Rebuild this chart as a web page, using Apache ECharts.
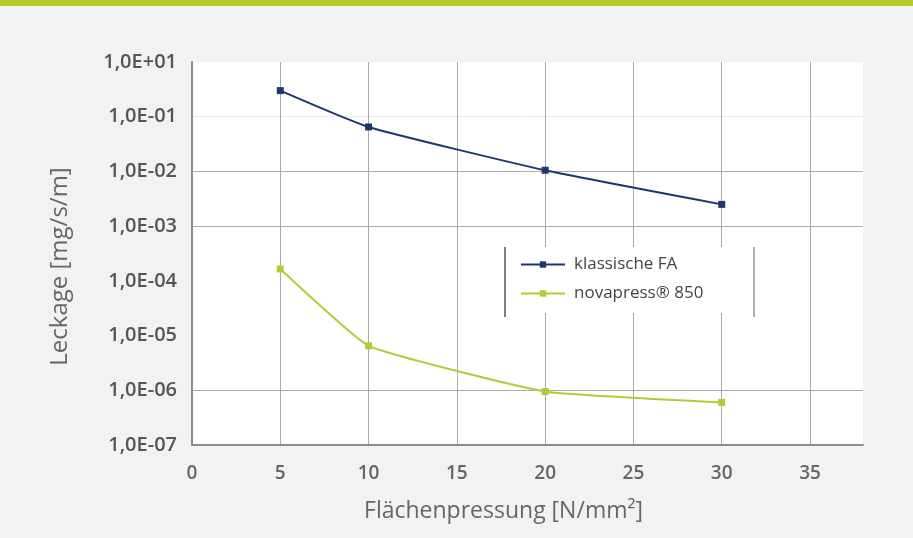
<!DOCTYPE html>
<html>
<head>
<meta charset="utf-8">
<script src="https://cdn.jsdelivr.net/npm/echarts@6/dist/echarts.min.js"></script>
<style>
  html, body { margin: 0; padding: 0; background: #f1f2f4; }
  #topbar { position: absolute; left: 0; top: 0; width: 913px; height: 6px; background: #b6c92b; }
  #chart { width: 913px; height: 538px; }
</style>
</head>
<body>
<div id="topbar"></div>
<div id="chart"></div>
<script>
// Flächenpressung [N/mm²]
const xValues = [5, 10, 20, 30];
// Leckage [mg/s/m]
const klassischeFA = [0.3, 0.065, 0.0105, 0.0025];
const novapress850 = [1.65e-4, 6.5e-6, 9.5e-7, 6.0e-7];
// tick labels as printed (top one reads +01)
const yTickLabels = ["1,0E-07", "1,0E-06", "1,0E-05", "1,0E-04", "1,0E-03", "1,0E-02", "1,0E-01", "1,0E+01"];
const seriesNames = ["klassische FA", "novapress\u00AE 850"];

const chart = echarts.init(document.getElementById("chart"));

const font = "'Open Sans', 'Noto Sans', sans-serif";

const option = {
  backgroundColor: "transparent",
  animation: false,
  grid: { left: 192, top: 62, right: 50, bottom: 93, backgroundColor: "#fff", show: true, borderWidth: 0 },
  legend: {
    left: 505,
    top: 247,
    orient: "vertical",
    backgroundColor: "#fff",
    padding: [9, 44, 11, 15],
    itemWidth: 44,
    itemHeight: 8,
    itemGap: 12,
    textStyle: { fontFamily: font, fontSize: 17, color: "#444", padding: [0, 0, 0, 4] },
    data: seriesNames
  },
  xAxis: {
    type: "value",
    min: 0,
    max: 38,
    interval: 5,
    name: "Flächenpressung [N/mm²]",
    nameLocation: "middle",
    nameGap: 55,
    nameTextStyle: { fontFamily: font, fontSize: 23, color: "#666", padding: [0, 48, 0, 0] },
    axisLine: { lineStyle: { color: "#8c8c8c", width: 2 } },
    axisTick: { show: false },
    axisLabel: {
      margin: 19,
      fontFamily: font, fontSize: 19, fontWeight: 600, color: "#666",
      formatter: v => (v % 5 === 0 ? String(v) : "")
    },
    splitLine: { show: true, showMinLine: false, showMaxLine: false, lineStyle: { color: "#aaa", width: 1 } }
  },
  yAxis: {
    type: "log",
    logBase: 10,
    min: 1e-7,
    max: 1,
    name: "Leckage [mg/s/m]",
    nameLocation: "middle",
    nameGap: 120,
    nameTextStyle: { fontFamily: font, fontSize: 24, color: "#666", padding: [0, 26, 0, 0] },
    axisLine: { show: true, lineStyle: { color: "#8c8c8c", width: 2 } },
    axisTick: { show: false },
    axisLabel: {
      margin: 15,
      fontFamily: font, fontSize: 20, fontWeight: 600, color: "#555",
      formatter: v => yTickLabels[Math.round(Math.log10(v)) + 7]
    },
    splitLine: {
      show: true, showMinLine: false, showMaxLine: false,
      // 1e-6, 1e-5, 1e-4, 1e-3, 1e-2, 1e-1
      lineStyle: { color: ["#ababab", "rgba(0,0,0,0)", "rgba(0,0,0,0)", "#ababab", "#ababab", "#e9e9e9"], width: 1 }
    }
  },
  graphic: [
    { type: "line", shape: { x1: 505, y1: 247, x2: 505, y2: 317 }, style: { stroke: "#555", lineWidth: 1.5 }, z: 100 },
    { type: "line", shape: { x1: 754, y1: 247, x2: 754, y2: 317 }, style: { stroke: "#999", lineWidth: 1.5 }, z: 100 }
  ],
  series: [
    {
      name: seriesNames[0],
      type: "line",
      smooth: 0.15,
      symbol: "rect",
      symbolSize: 7,
      color: "#1f386b",
      lineStyle: { width: 2 },
      data: xValues.map((x, i) => [x, klassischeFA[i]])
    },
    {
      name: seriesNames[1],
      type: "line",
      smooth: 0.12,
      symbol: "rect",
      symbolSize: 7,
      color: "#b3cb38",
      lineStyle: { width: 2 },
      data: xValues.map((x, i) => [x, novapress850[i]])
    }
  ]
};

chart.setOption(option);
</script>
</body>
</html>
